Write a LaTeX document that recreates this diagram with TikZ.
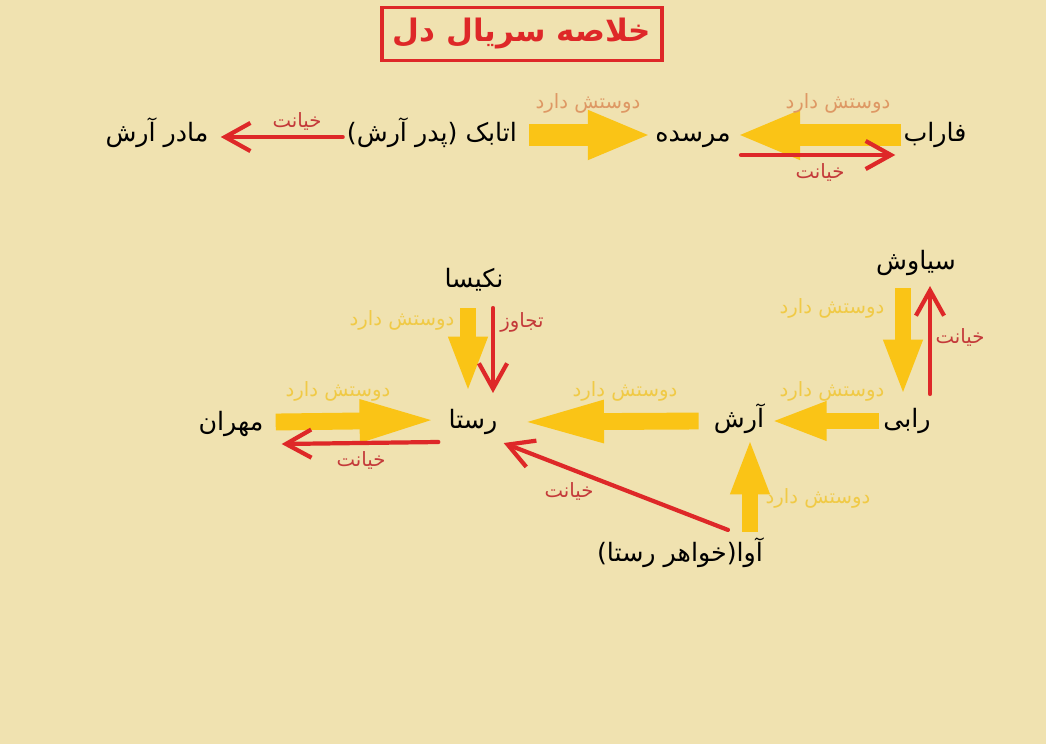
\documentclass[tikz,border=0pt]{standalone}
\usepackage{fontspec}
\usetikzlibrary{arrows.meta,calc}
\newfontfamily\farsi[Script=Arabic]{DejaVu Sans}
\TeXXeTstate=1
\newcommand{\fa}[1]{\farsi\beginR #1\endR}

\definecolor{bgColor}{RGB}{240,226,176}
\definecolor{loveColor}{RGB}{250,196,22}
\definecolor{betrayColor}{RGB}{222,40,40}
\definecolor{loveText}{RGB}{222,152,100}
\definecolor{lovePale}{RGB}{240,202,70}
\definecolor{betrayText}{RGB}{196,58,58}

\begin{document}
\begin{tikzpicture}[x=0.025cm,y=-0.025cm]

          \tikzstyle{person} = [inner sep=0pt, text height=15pt, text depth=6pt, font=\fontsize{18}{21}\selectfont];
          \tikzstyle{tag} = [inner sep=0pt, font=\fontsize{14}{16}\selectfont];
          \tikzstyle{love} = [draw=loveColor, line width=12pt, -{Triangle[width=25pt,length=40pt]}];
          \tikzstyle{bigLove} = [love, line width=15pt, -{Triangle[width=32pt,length=45pt]}];
          \tikzstyle{betray} = [draw=betrayColor, line width=3pt, line cap=round, -{Straight Barb[length=18pt,width=20pt,line width=3pt]}];

          \fill[bgColor] (0,0) rectangle (1046,744);

          \node[draw=betrayColor, line width=2.5pt, minimum width=199pt, minimum height=38pt, inner sep=0pt, text=betrayColor, font=\fontsize{22}{26}\selectfont\bfseries] (title) at (522,34) {\fa{خلاصه سریال دل}};

          % top row
          \node[person] (madar) at (157,135) {\fa{مادر آرش}};
          \node[person] (atabak) at (432,135) {\fa{اتابک (پدر آرش)}};
          \node[person] (marsede) at (693,135) {\fa{مرسده}};
          \node[person] (farab) at (935,135) {\fa{فاراب}};

          \draw[betray] ($(atabak.west)+(-4,2)$) -- ($(madar.east)+(12,2)$);
          \node[tag, text=betrayText] (t1) at (297,121) {\fa{خیانت}};
          \draw[bigLove] ($(atabak.east)+(12,0)$) -- ($(marsede.west)+(-4,0)$);
          \node[tag, text=loveText] (t2) at (588,103) {\fa{دوستش دارد}};
          \draw[bigLove] ($(farab.west)+(-2,0)$) -- ($(marsede.east)+(6,0)$);
          \node[tag, text=loveText] (t3) at (838,103) {\fa{دوستش دارد}};
          \draw[betray] ($(marsede.east)+(10,20)$) -- ($(farab.west)+(-8,20)$);
          \node[tag, text=betrayText] (t4) at (820,172) {\fa{خیانت}};

          % bottom
          \node[person] (siavash) at (916,263) {\fa{سیاوش}};
          \node[person] (nakisa) at (474,281) {\fa{نکیسا}};
          \node[person] (mehran) at (231,424) {\fa{مهران}};
          \node[person] (rasta) at (473,422) {\fa{رستا}};
          \node[person] (arash) at (739,421) {\fa{آرش}};
          \node[person] (rabi) at (907,421) {\fa{رابی}};
          \node[person] (ava) at (680,555) {\fa{آوا(خواهر رستا)}};

          \draw[love] ($(siavash.south)+(-13,10)$) -- ($(rabi.north)+(-4,-10)$);
          \node[tag, text=lovePale] (t5) at (832,308) {\fa{دوستش دارد}};
          \draw[betray] ($(rabi.north)+(23,-12)$) -- ($(siavash.south)+(14,8)$);
          \node[tag, text=betrayText] (t6) at (960,337) {\fa{خیانت}};

          \draw[love] ($(nakisa.south)+(-6,12)$) -- ($(rasta.north)+(-5,-14)$);
          \node[tag, text=lovePale] (t7) at (402,320) {\fa{دوستش دارد}};
          \draw[betray] ($(nakisa.south)+(19,12)$) -- ($(rasta.north)+(20,-14)$);
          \node[tag, text=betrayText] (t8) at (522,322) {\fa{تجاوز}};

          \draw[love, -{Triangle[width=27pt,length=56pt]}] ($(mehran.east)+(12,-2)$) -- ($(rasta.west)+(-10,-2)$);
          \node[tag, text=lovePale] (t9) at (338,391) {\fa{دوستش دارد}};
          \draw[betray] ($(rasta.west)+(-10,20)$) -- ($(mehran.east)+(18,20)$);
          \node[tag, text=betrayText] (t10) at (361,460) {\fa{خیانت}};

          \draw[love, -{Triangle[width=27pt,length=60pt]}] ($(arash.west)+(-15,0)$) -- ($(rasta.east)+(22,0)$);
          \node[tag, text=lovePale] (t11) at (625,391) {\fa{دوستش دارد}};
          \draw[love] ($(rabi.west)+(-4,0)$) -- ($(arash.east)+(6,0)$);
          \node[tag, text=lovePale] (t12) at (832,391) {\fa{دوستش دارد}};

          \draw[love] ($(ava.north)+(70,-8)$) -- ($(arash.south)+(11,2)$);
          \node[tag, text=lovePale] (t13) at (818,498) {\fa{دوستش دارد}};
          \draw[betray] ($(ava.north)+(48,-10)$) -- ($(rasta.south east)+(6,6)$);
          \node[tag, text=betrayText] (t14) at (569,491) {\fa{خیانت}};
        \end{tikzpicture}
\end{document}
